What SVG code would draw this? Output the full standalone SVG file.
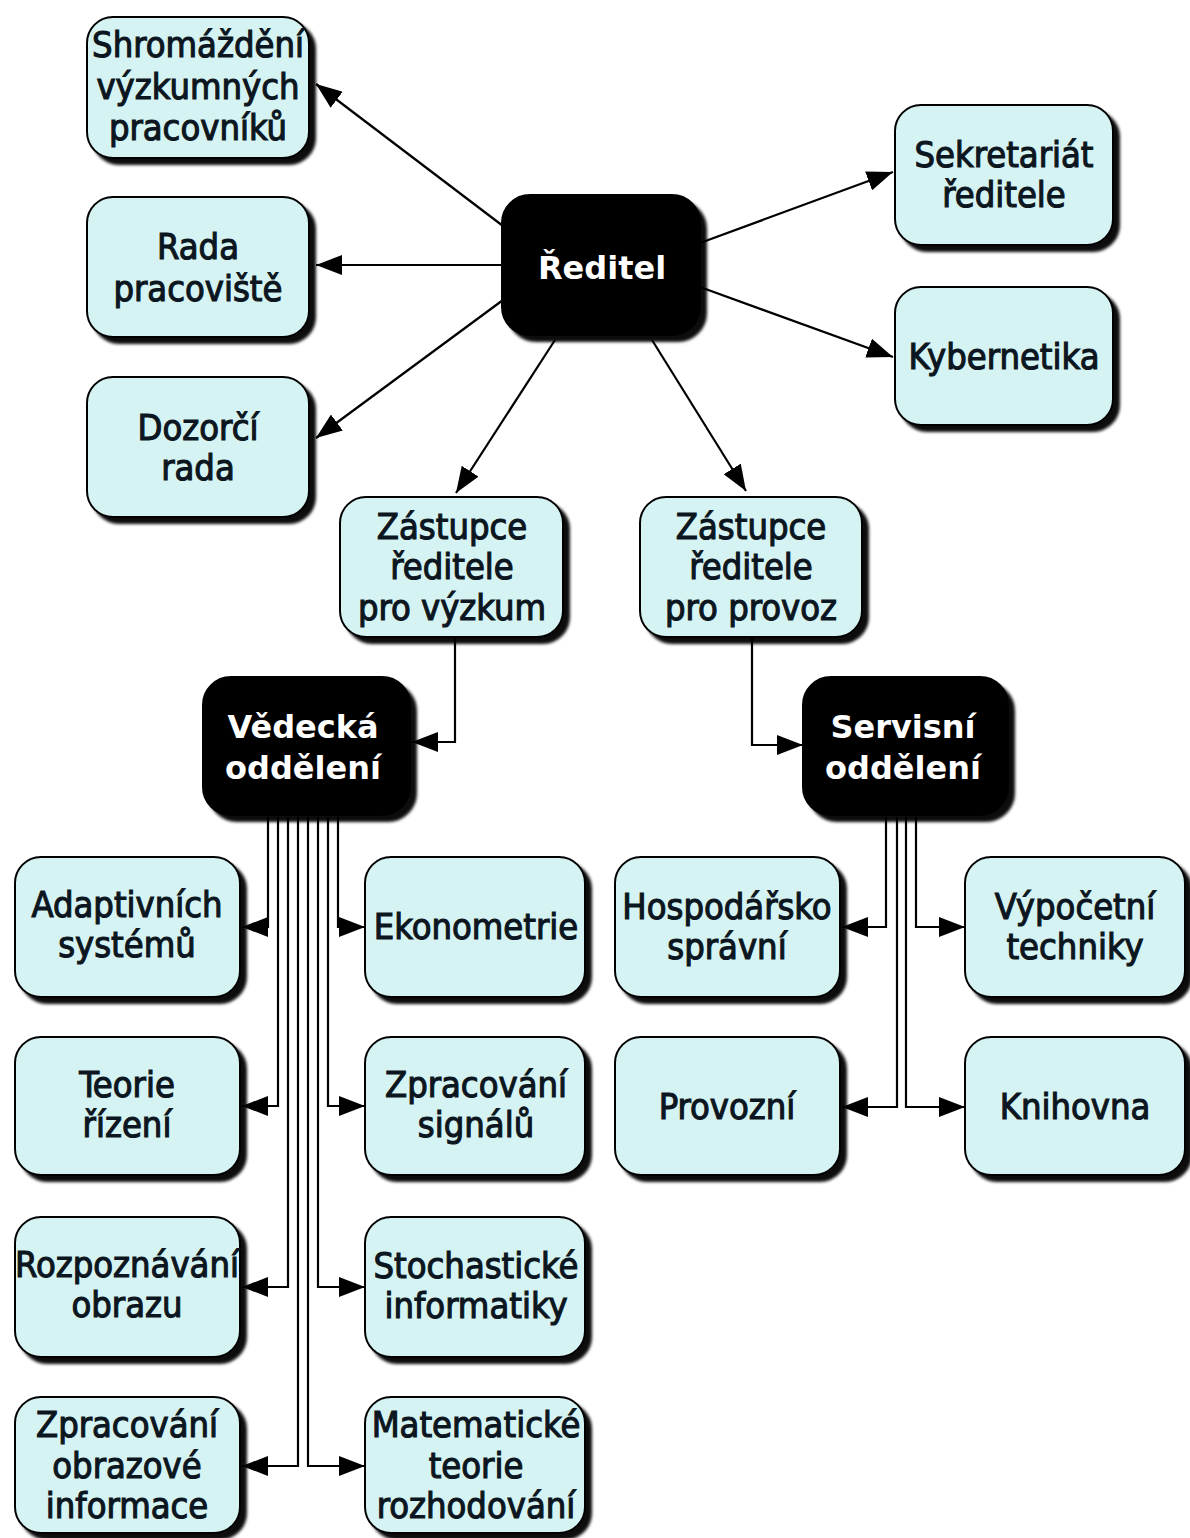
<svg xmlns="http://www.w3.org/2000/svg" width="1190" height="1538" viewBox="0 0 1190 1538">
<defs>
<style>
.box{fill:#d6f3f3;stroke:#000;stroke-width:2;filter:url(#sh)}
.dark{fill:#000;stroke:#000;stroke-width:2;filter:url(#sh)}
.t{font-family:"DejaVu Sans Condensed","DejaVu Sans",sans-serif;font-size:36px;fill:#0c1620;stroke:#0c1620;stroke-width:1.1;text-anchor:middle}
.w{font-family:"DejaVu Sans",sans-serif;font-weight:bold;font-size:32px;fill:#fff;text-anchor:middle}
.c{fill:none;stroke:#000;stroke-width:2.2}
</style>
<filter id="sh" x="-10%" y="-10%" width="130%" height="130%">
<feDropShadow dx="6" dy="6" stdDeviation="1.8" flood-color="#000" flood-opacity="0.95"/>
</filter>
<marker id="ah" viewBox="0 0 26 20" refX="26" refY="10" markerWidth="26" markerHeight="20" markerUnits="userSpaceOnUse" orient="auto">
<path d="M0,0 L26,10 L0,20 z" fill="#000"/>
</marker>
</defs>
<rect width="1190" height="1538" fill="#fff"/>

<g id="connectors" class="c" marker-end="url(#ah)">
<path d="M503,226 L316,84"/>
<path d="M502,265 L316,265"/>
<path d="M503,300 L316,438"/>
<path d="M555,340 L456,493"/>
<path d="M652,340 L746,491"/>
<path d="M700,243 L893,172"/>
<path d="M700,287 L893,357"/>
<path d="M455,637 V742 H412"/>
<path d="M752,637 V745 H803"/>
<path d="M268,817 V927 H242"/>
<path d="M278,817 V1106 H242"/>
<path d="M288,817 V1287 H242"/>
<path d="M298,817 V1466 H242"/>
<path d="M338,817 V927 H365"/>
<path d="M328,817 V1106 H365"/>
<path d="M318,817 V1287 H365"/>
<path d="M308,817 V1466 H365"/>
<path d="M886,817 V927 H842"/>
<path d="M897,817 V1107 H842"/>
<path d="M906,817 V1107 H965"/>
<path d="M916,817 V927 H965"/>
</g>

<g id="n-shromazdeni"><rect class="box" x="87" y="17" width="222" height="141" rx="26"/>
<text class="t" x="198" y="57">Shromáždění</text><text class="t" x="198" y="99">výzkumných</text><text class="t" x="198" y="140">pracovníků</text></g>
<g id="n-rada"><rect class="box" x="87" y="197" width="222" height="140" rx="26"/>
<text class="t" x="198" y="259">Rada</text><text class="t" x="198" y="301">pracoviště</text></g>
<g id="n-dozorci"><rect class="box" x="87" y="377" width="222" height="140" rx="26"/>
<text class="t" x="198" y="440">Dozorčí</text><text class="t" x="198" y="480">rada</text></g>

<g id="n-reditel"><rect class="dark" x="502" y="195" width="198" height="140" rx="28"/>
<text class="w" x="602" y="279">Ředitel</text></g>

<g id="n-sekretariat"><rect class="box" x="895" y="105" width="218" height="140" rx="26"/>
<text class="t" x="1004" y="167">Sekretariát</text><text class="t" x="1004" y="207">ředitele</text></g>
<g id="n-kybernetika"><rect class="box" x="895" y="287" width="218" height="138" rx="26"/>
<text class="t" x="1004" y="369">Kybernetika</text></g>

<g id="n-zast-vyzkum"><rect class="box" x="340" y="497" width="223" height="140" rx="26"/>
<text class="t" x="452" y="539">Zástupce</text><text class="t" x="452" y="579">ředitele</text><text class="t" x="452" y="620">pro výzkum</text></g>
<g id="n-zast-provoz"><rect class="box" x="640" y="497" width="222" height="140" rx="26"/>
<text class="t" x="751" y="539">Zástupce</text><text class="t" x="751" y="579">ředitele</text><text class="t" x="751" y="620">pro provoz</text></g>

<g id="n-vedecka"><rect class="dark" x="203" y="677" width="207" height="138" rx="28"/>
<text class="w" x="303" y="738">Vědecká</text><text class="w" x="303" y="779">oddělení</text></g>
<g id="n-servisni"><rect class="dark" x="803" y="677" width="205" height="138" rx="28"/>
<text class="w" x="903" y="738">Servisní</text><text class="w" x="903" y="779">oddělení</text></g>

<g id="n-adaptivnich"><rect class="box" x="15" y="857" width="225" height="140" rx="26"/>
<text class="t" x="127" y="917">Adaptivních</text><text class="t" x="127" y="957">systémů</text></g>
<g id="n-teorie"><rect class="box" x="15" y="1037" width="225" height="138" rx="26"/>
<text class="t" x="127" y="1097">Teorie</text><text class="t" x="127" y="1137">řízení</text></g>
<g id="n-rozpoznavani"><rect class="box" x="15" y="1217" width="225" height="140" rx="26"/>
<text class="t" x="127" y="1277">Rozpoznávání</text><text class="t" x="127" y="1317">obrazu</text></g>
<g id="n-zprac-obraz"><rect class="box" x="15" y="1397" width="225" height="136" rx="26"/>
<text class="t" x="127" y="1437">Zpracování</text><text class="t" x="127" y="1478">obrazové</text><text class="t" x="127" y="1518">informace</text></g>

<g id="n-ekonometrie"><rect class="box" x="365" y="857" width="220" height="140" rx="26"/>
<text class="t" x="476" y="939">Ekonometrie</text></g>
<g id="n-zprac-signal"><rect class="box" x="365" y="1037" width="220" height="138" rx="26"/>
<text class="t" x="476" y="1097">Zpracování</text><text class="t" x="476" y="1137">signálů</text></g>
<g id="n-stochasticke"><rect class="box" x="365" y="1217" width="220" height="140" rx="26"/>
<text class="t" x="476" y="1278">Stochastické</text><text class="t" x="476" y="1318">informatiky</text></g>
<g id="n-matematicke"><rect class="box" x="365" y="1397" width="220" height="136" rx="26"/>
<text class="t" x="476" y="1437">Matematické</text><text class="t" x="476" y="1478">teorie</text><text class="t" x="476" y="1518">rozhodování</text></g>

<g id="n-hospodarsko"><rect class="box" x="615" y="857" width="225" height="140" rx="26"/>
<text class="t" x="727" y="919">Hospodářsko</text><text class="t" x="727" y="959">správní</text></g>
<g id="n-vypocetni"><rect class="box" x="965" y="857" width="220" height="140" rx="26"/>
<text class="t" x="1075" y="919">Výpočetní</text><text class="t" x="1075" y="959">techniky</text></g>
<g id="n-provozni"><rect class="box" x="615" y="1037" width="225" height="138" rx="26"/>
<text class="t" x="727" y="1119">Provozní</text></g>
<g id="n-knihovna"><rect class="box" x="965" y="1037" width="220" height="138" rx="26"/>
<text class="t" x="1075" y="1119">Knihovna</text></g>
</svg>
